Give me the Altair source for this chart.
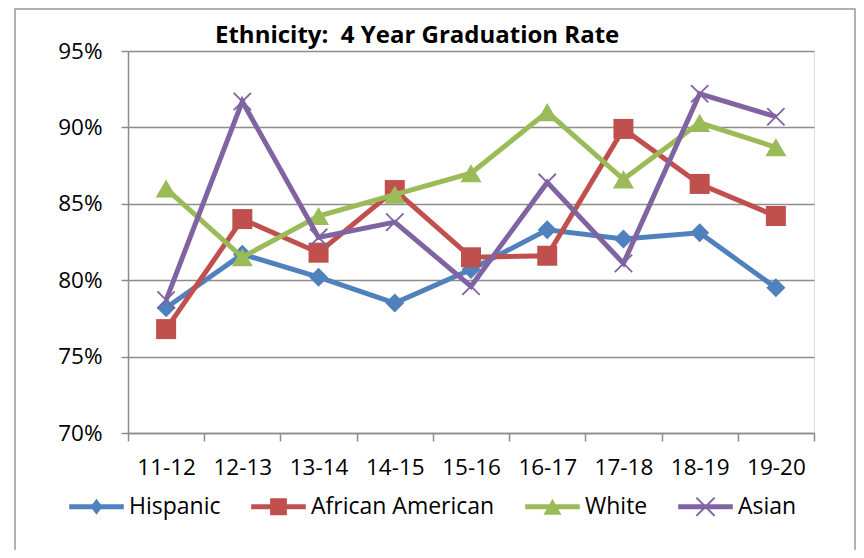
import altair as alt
import pandas as pd

# ---- data ----
years = ["11-12", "12-13", "13-14", "14-15", "15-16", "16-17", "17-18", "18-19", "19-20"]
series = ["Hispanic", "African American", "White", "Asian"]
hispanic = [78.2, 81.7, 80.2, 78.5, 80.7, 83.3, 82.7, 83.1, 79.5]
african_american = [76.8, 84.0, 81.8, 85.9, 81.5, 81.6, 89.9, 86.3, 84.2]
white = [86.0, 81.5, 84.2, 85.6, 87.0, 91.0, 86.6, 90.3, 88.7]
asian = [78.7, 91.7, 82.8, 83.8, 79.6, 86.4, 81.1, 92.2, 90.7]
colors = ["#4F81BD", "#C0504D", "#9BBB59", "#8064A2"]
y_ticks = [0.70, 0.75, 0.80, 0.85, 0.90, 0.95]
title_text = "Ethnicity:\u00a0 4 Year Graduation Rate"

rows = []
for name, vals in zip(series, [hispanic, african_american, white, asian]):
    for yr, v in zip(years, vals):
        rows.append({"year": yr, "series": name, "rate": v / 100.0})
df = pd.DataFrame(rows)

FONT = "Open Sans"
GRAY = "#8c8c8c"
W, H = 686, 382

# marker styles per series: (shape, size, filled, strokeWidth)
x_marker = "M-1,-1L1,1M-1,1L1,-1"
markers = {
    "Hispanic": ("diamond", 361, True, 0),
    "African American": ("square", 400, True, 0),
    "White": ("triangle-up", 441, True, 0),
    "Asian": (x_marker, 300, False, 1.8),
}

# legend symbols: line segment + marker (unit = sqrt(symbolSize)/2 px)
seg = "M-3.9,-0.36H3.9V0.36H-3.9Z"
legend_paths = [
    seg + "M0,-1.15L0.86,0L0,1.15L-0.86,0Z",
    seg + "M-1.2,-1.2H1.2V1.2H-1.2Z",
    seg + "M0,-1.14L1.29,1.14H-1.29Z",
    seg + "M-1.2,-1.4L1.4,1.2L1.2,1.4L-1.4,-1.2Z" + "M-1.4,1.2L1.2,-1.4L1.4,-1.2L-1.2,1.4Z",
]

x_enc = alt.X(
    "year:N",
    sort=years,
    scale=alt.Scale(type="band", paddingInner=0, paddingOuter=0),
    axis=alt.Axis(
        title=None, labelAngle=0, tickBand="extent", labelFont=FONT, labelFontSize=22.5,
        labelColor="black", tickColor=GRAY, domainColor=GRAY, tickSize=8, tickWidth=1.5,
        domainWidth=1.5, labelPadding=15, grid=False,
    ),
)
y_enc = alt.Y(
    "rate:Q",
    scale=alt.Scale(domain=[0.70, 0.95], nice=False, zero=False),
    axis=alt.Axis(
        title=None, values=y_ticks, format=".0%", labelFont=FONT, labelFontSize=22.5,
        labelColor="black", tickColor=GRAY, domainColor=GRAY, tickSize=7, tickWidth=1.5,
        domainWidth=1.5, gridColor=GRAY, gridWidth=1.5, labelPadding=19,
    ),
)

legend_props = dict(
    title=None, orient="none", legendX=-43, legendY=444, direction="horizontal",
    labelFont=FONT, labelFontSize=23, labelColor="black", symbolSize=196,
    labelOffset=21, columnPadding=30, padding=0, labelLimit=400,
    symbolStrokeWidth=0, symbolOpacity=1,
)

frame = alt.Chart(alt.Data(values=[{}])).mark_rect(
    fill=None, stroke="#999999", strokeWidth=1.5
).encode(
    x=alt.value(-113), x2=alt.value(727), y=alt.value(-42), y2=alt.value(600)
)

base = alt.Chart(df)

layers = [frame]
for name, col in zip(series, colors):
    shp, sz, filled, sw = markers[name]
    sub = base.transform_filter(alt.datum.series == name)
    layers.append(
        sub.mark_line(strokeWidth=5, color=col).encode(
            x=x_enc, y=y_enc, order=alt.Order("year:N")
        )
    )
    if filled:
        pt = sub.mark_point(filled=True, opacity=1, shape=shp, size=sz, color=col)
    else:
        pt = sub.mark_point(filled=False, opacity=1, shape=shp, size=sz, color=col,
                            strokeWidth=sw)
    layers.append(pt.encode(x=x_enc, y=y_enc))

# legend-only layer (no marks drawn): line+marker symbols
layers.append(
    base.transform_filter("false")
    .mark_point(filled=True, opacity=1, size=196)
    .encode(
        x=x_enc, y=y_enc,
        color=alt.Color("series:N", scale=alt.Scale(domain=series, range=colors),
                        legend=alt.Legend(**legend_props)),
        shape=alt.Shape("series:N", scale=alt.Scale(domain=series, range=legend_paths),
                        legend=alt.Legend(**legend_props)),
    )
)

chart = alt.layer(*layers).properties(
    width=W,
    height=H,
    autosize=alt.AutoSizeParams(type="none"),
    padding={"left": 120, "top": 43, "right": 42, "bottom": 117},
    title=alt.TitleParams(
        title_text, font=FONT, fontSize=24, fontWeight="bold", color="black",
        anchor="start", frame="group", dx=87, dy=67, offset=8, baseline="alphabetic",
    ),
).configure_view(stroke=None).configure(background="white")

chart.save("out.html", embed_options={"renderer": "svg", "actions": False})
